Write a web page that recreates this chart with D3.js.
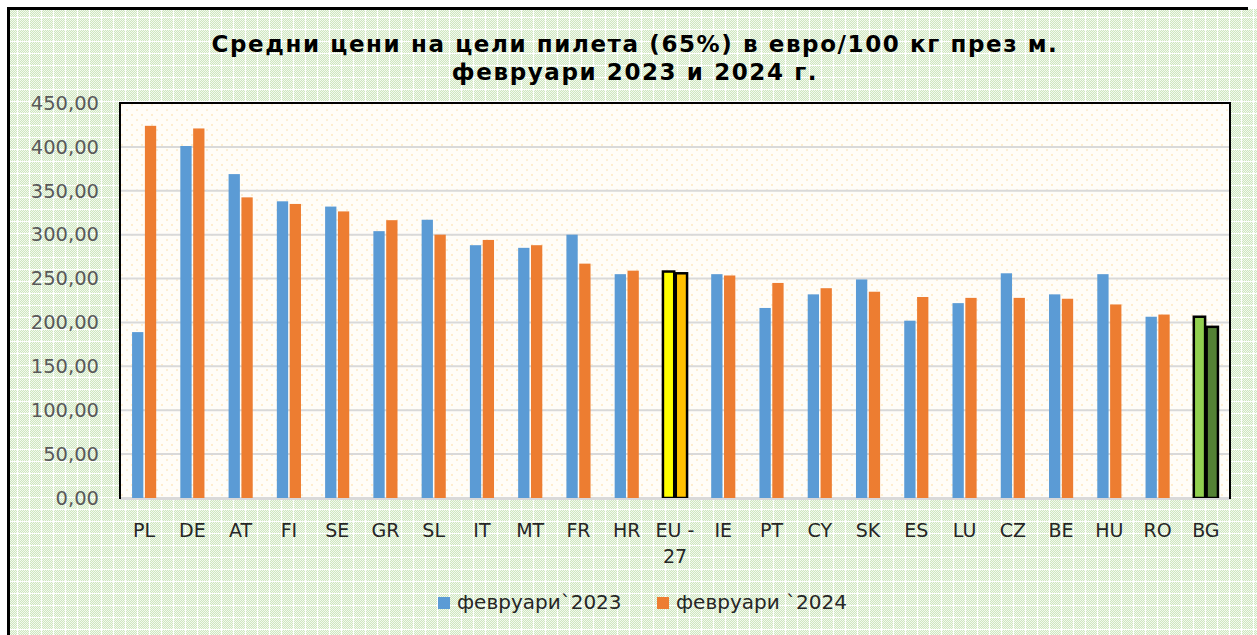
<!DOCTYPE html>
<html>
<head>
<meta charset="utf-8">
<script src="https://cdn.jsdelivr.net/npm/d3@7"></script>
<style>
  body { margin: 0; background: #fff; }
  svg text { font-family: "DejaVu Sans", Verdana, sans-serif; }
</style>
</head>
<body>
<svg id="chart" width="1257" height="635"></svg>
<script>
// data
var countries = ["PL","DE","AT","FI","SE","GR","SL","IT","MT","FR","HR","EU - 27","IE","PT","CY","SK","ES","LU","CZ","BE","HU","RO","BG"];
var feb2023 = [189, 401, 369, 338, 332, 304, 317, 288, 285, 300, 255, 258, 255, 216.5, 232, 249, 202, 222, 256, 232, 255, 206.5, 206.5];
var feb2024 = [424, 421, 342.5, 335, 326.5, 316.5, 300, 294, 288, 267, 259, 256, 253.5, 245, 239, 235, 229, 228, 228, 227, 220.5, 209, 195];
var seriesNames = ["февруари`2023", "февруари `2024"];
var yTicks = [0, 50, 100, 150, 200, 250, 300, 350, 400, 450];
var titleLines = ["Средни цени на цели пилета (65%) в евро/100 кг през м.", "февруари 2023 и 2024 г."];

var colors = ["#5B9BD5", "#ED7D31"];
// highlighted groups get their own fills
var special = {
  "EU - 27": ["#FFFF00", "#FFC000"],
  "BG": ["#92D050", "#548235"]
};

var svg = d3.select("#chart");
var W = 1257, H = 635;
var margin = { top: 103, right: 27, bottom: 137, left: 120 };
var width = W - margin.left - margin.right,
    height = H - margin.top - margin.bottom;

var defs = svg.append("defs");

// green mesh background
var mesh = defs.append("pattern")
  .attr("id", "mesh")
  .attr("patternUnits", "userSpaceOnUse")
  .attr("width", 12).attr("height", 12);
mesh.append("rect").attr("width", 12).attr("height", 12).attr("fill", "#cfe6bf");
for (var i = 0; i < 12; i++) {
  for (var j = 0; j < 12; j++) {
    if ((i + j) % 2 == 0) mesh.append("rect").attr("x", i).attr("y", j).attr("width", 1).attr("height", 1).attr("fill", "#f2f9ee");
  }
}
mesh.append("rect").attr("x", 0).attr("y", 5).attr("width", 12).attr("height", 1).attr("fill", "#ffffff");
mesh.append("rect").attr("x", 5).attr("y", 0).attr("width", 1).attr("height", 12).attr("fill", "#ffffff");

// dotted cream plot background
var dots = defs.append("pattern")
  .attr("id", "dots")
  .attr("patternUnits", "userSpaceOnUse")
  .attr("width", 10).attr("height", 10);
dots.append("rect").attr("width", 10).attr("height", 10).attr("fill", "#fffdf8");
dots.append("circle").attr("cx", 2).attr("cy", 2).attr("r", 1).attr("fill", "#fde8c2");
dots.append("circle").attr("cx", 7).attr("cy", 7).attr("r", 1).attr("fill", "#fdebc9");

svg.append("rect")
  .attr("x", 9).attr("y", 9)
  .attr("width", W - 9).attr("height", H - 9)
  .attr("fill", "url(#mesh)");

svg.append("line").attr("x1", 7).attr("x2", 1248).attr("y1", 8.5).attr("y2", 8.5)
  .attr("stroke", "#000").attr("stroke-width", 3);
svg.append("line").attr("x1", 8.5).attr("x2", 8.5).attr("y1", 7).attr("y2", H)
  .attr("stroke", "#000").attr("stroke-width", 3);

// title
svg.append("text")
  .attr("x", 635).attr("y", 52)
  .attr("text-anchor", "middle")
  .attr("font-weight", "bold")
  .attr("font-size", 23)
  .attr("letter-spacing", 1.6)
  .attr("fill", "#000")
  .selectAll("tspan")
  .data(titleLines)
  .enter().append("tspan")
  .attr("x", 635)
  .attr("dy", function(d, i) { return i ? 28 : 0; })
  .text(function(d) { return d; });

var g = svg.append("g")
  .attr("transform", "translate(" + margin.left + "," + margin.top + ")");

var x0 = d3.scaleBand().domain(countries).range([0, width]).paddingInner(0.5).paddingOuter(0.25);
var x1 = d3.scaleBand().domain([0, 1]).range([0, x0.bandwidth()]).paddingInner(0.12);
var y = d3.scaleLinear().domain([0, 450]).range([height, 0]);

g.append("rect").attr("width", width).attr("height", height).attr("fill", "url(#dots)");

// gridlines
g.append("g")
  .selectAll("line")
  .data(yTicks)
  .enter().append("line")
  .attr("x1", 0).attr("x2", width)
  .attr("y1", function(d) { return y(d); })
  .attr("y2", function(d) { return y(d); })
  .attr("stroke", "#d9d9d9")
  .attr("stroke-width", 2);

// y axis labels
var fmt = function(v) { return d3.format(".2f")(v).replace(".", ","); };
var yAxis = g.append("g")
  .call(d3.axisLeft(y).tickValues(yTicks).tickFormat(fmt).tickSize(0).tickPadding(21));
yAxis.select(".domain").remove();
yAxis.selectAll("text")
  .attr("font-size", 19.5)
  .attr("fill", "#595959")
  .attr("font-family", "DejaVu Sans, sans-serif");

// bars
var rows = countries.map(function(c, i) { return { c: c, v: [feb2023[i], feb2024[i]] }; });
var groups = g.selectAll(".grp")
  .data(rows)
  .enter().append("g")
  .attr("class", "grp")
  .attr("transform", function(d) { return "translate(" + x0(d.c) + ",0)"; });

groups.selectAll("rect")
  .data(function(d) { return d.v.map(function(v, k) { return { c: d.c, k: k, v: v }; }); })
  .enter().append("rect")
  .attr("x", function(d) { return x1(d.k); })
  .attr("y", function(d) { return y(d.v); })
  .attr("width", x1.bandwidth())
  .attr("height", function(d) { return height - y(d.v); })
  .attr("fill", function(d) { return special[d.c] ? special[d.c][d.k] : colors[d.k]; })
  .attr("stroke", function(d) { return special[d.c] ? "#000" : "none"; })
  .attr("stroke-width", 2.5);

// x axis
var xAxis = g.append("g")
  .attr("transform", "translate(0," + height + ")")
  .call(d3.axisBottom(x0).tickSize(0).tickPadding(0));
xAxis.select(".domain").remove();
g.append("line")
  .attr("x1", 0).attr("x2", width)
  .attr("y1", height + 1).attr("y2", height + 1)
  .attr("stroke", "#d9d9d9").attr("stroke-width", 2);
xAxis.selectAll("text").each(function(d) {
  var t = d3.select(this).text("")
    .attr("y", 0).attr("dy", null)
    .attr("font-size", 19)
    .attr("fill", "#262626")
    .attr("font-family", "DejaVu Sans, sans-serif");
  var parts = d == "EU - 27" ? ["EU -", "27"] : [d];
  parts.forEach(function(p, i) {
    t.append("tspan").attr("x", 0).attr("y", 39 + i * 26).text(p);
  });
});

// plot frame: left, top, right in black
g.append("path")
  .attr("d", "M0," + (height + 1) + "V0H" + width + "V" + (height + 1))
  .attr("fill", "none")
  .attr("stroke", "#000")
  .attr("stroke-width", 2);

// legend
var legend = svg.append("g").attr("transform", "translate(0,609)");
var legX = [438, 657];
seriesNames.forEach(function(s, i) {
  legend.append("rect")
    .attr("x", legX[i]).attr("y", -12)
    .attr("width", 12).attr("height", 12)
    .attr("fill", colors[i]);
  legend.append("text")
    .attr("x", legX[i] + 19).attr("y", 0)
    .attr("font-size", 20)
    .attr("fill", "#262626")
    .text(s);
});
</script>
</body>
</html>
